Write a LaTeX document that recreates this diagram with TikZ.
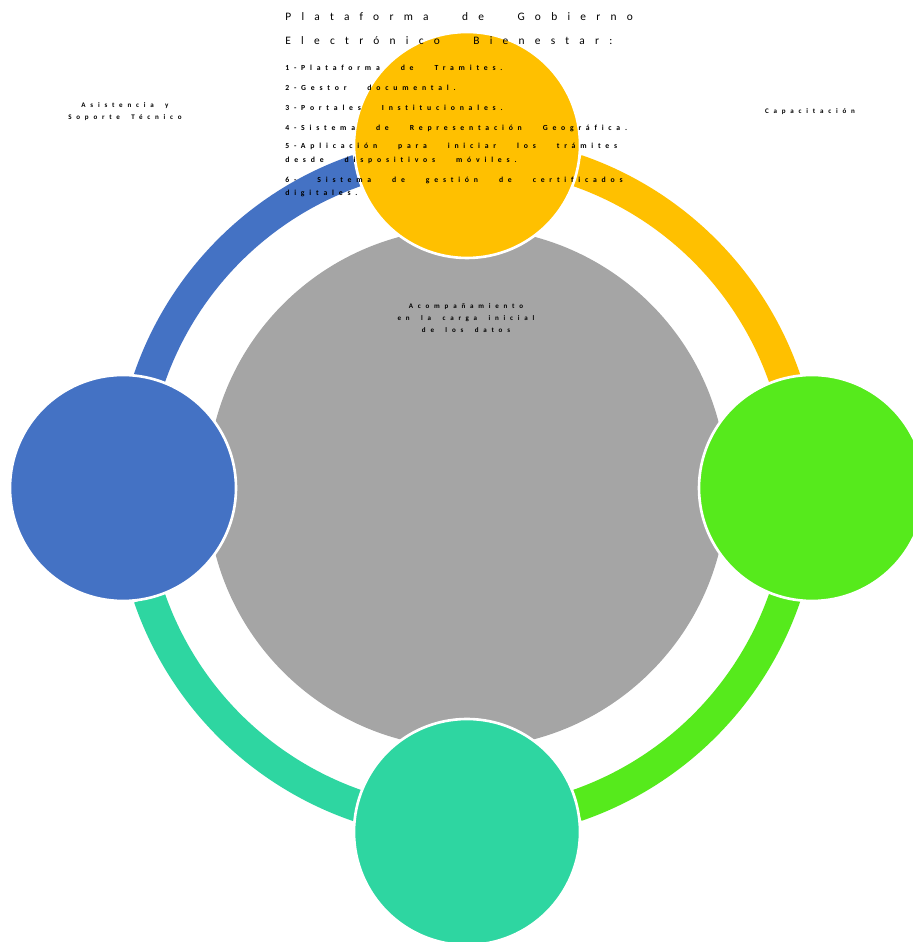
\documentclass[tikz,border=0pt]{standalone}
\usepackage{fontspec}
\setmainfont{Carlito}
\newfontfamily\titlefont[LetterSpace=90,WordSpace=2.6]{Carlito}
\newfontfamily\itemfont[LetterSpace=62,WordSpace=3.2,Ligatures=NoCommon]{Carlito}
\newfontfamily\labelfont[LetterSpace=68,WordSpace=1.8]{Carlito}
\definecolor{azul}{HTML}{4472C4}
\definecolor{amarillo}{HTML}{FFC000}
\definecolor{verde}{HTML}{56EA1C}
\definecolor{turquesa}{HTML}{2ED6A1}
\definecolor{gris}{HTML}{A5A5A5}
\tikzset{
  titulo/.style={anchor=west, inner sep=0pt, text=black, font=\titlefont\fontsize{6.5}{8}\selectfont},
  item/.style={anchor=west, inner sep=0pt, font=\itemfont\bfseries\fontsize{4.4}{5}\selectfont},
  etiqueta/.style={align=center, inner sep=0pt, font=\labelfont\bfseries\fontsize{4}{6.8}\selectfont}
}
\begin{document}
\begin{tikzpicture}[x=0.02cm,y=0.02cm]
    \useasboundingbox (0,0) rectangle (912,942);
    \fill[gris] (467,454) circle [radius=260];
    \foreach \a/\b/\c in {71/0/amarillo, 0/-71/verde, -90/-161/turquesa, 180/109/azul}{
    \fill[\c] (467,454) ++(\a:352) arc [start angle=\a, end angle=\b, radius=352]
        -- ++(\b+180:32) arc [start angle=\b, end angle=\a, radius=320] -- cycle;
    }
    \foreach \x/\y/\c in {467/797/amarillo, 812/454/verde, 467/110/turquesa, 123/454/azul}{
    \draw[white, line width=1.5pt, fill=\c] (\x,\y) circle [radius=113];
    }
    \node[titulo] (tit1) at (285,925) {Plataforma de Gobierno};
    \node[titulo] (tit2) at (285,901) {Electrónico Bienestar:};
    \node[item] (it1) at (285,874) {1-Plataforma de Tramites.};
    \node[item] (it2) at (285,854) {2-Gestor documental.};
    \node[item] (it3) at (285,834) {3-Portales Institucionales.};
    \node[item] (it4) at (285,814) {4-Sistema de Representación Geográfica.};
    \node[item] (it5a) at (285,796) {5-Aplicación para iniciar los trámites};
    \node[item] (it5b) at (285,782) {desde dispositivos móviles.};
    \node[item] (it6a) at (285,762) {6- Sistema de gestión de certificados};
    \node[item] (it6b) at (285,749) {digitales.};
    \node[etiqueta] (soporte) at (125,830) {Asistencia y\\Soporte Técnico};
    \node[etiqueta] (capacitacion) at (810,830) {Capacitación};
    \node[etiqueta] (acompana) at (466,624) {Acompañamiento\\en la carga inicial\\de los datos};
\end{tikzpicture}
\end{document}
